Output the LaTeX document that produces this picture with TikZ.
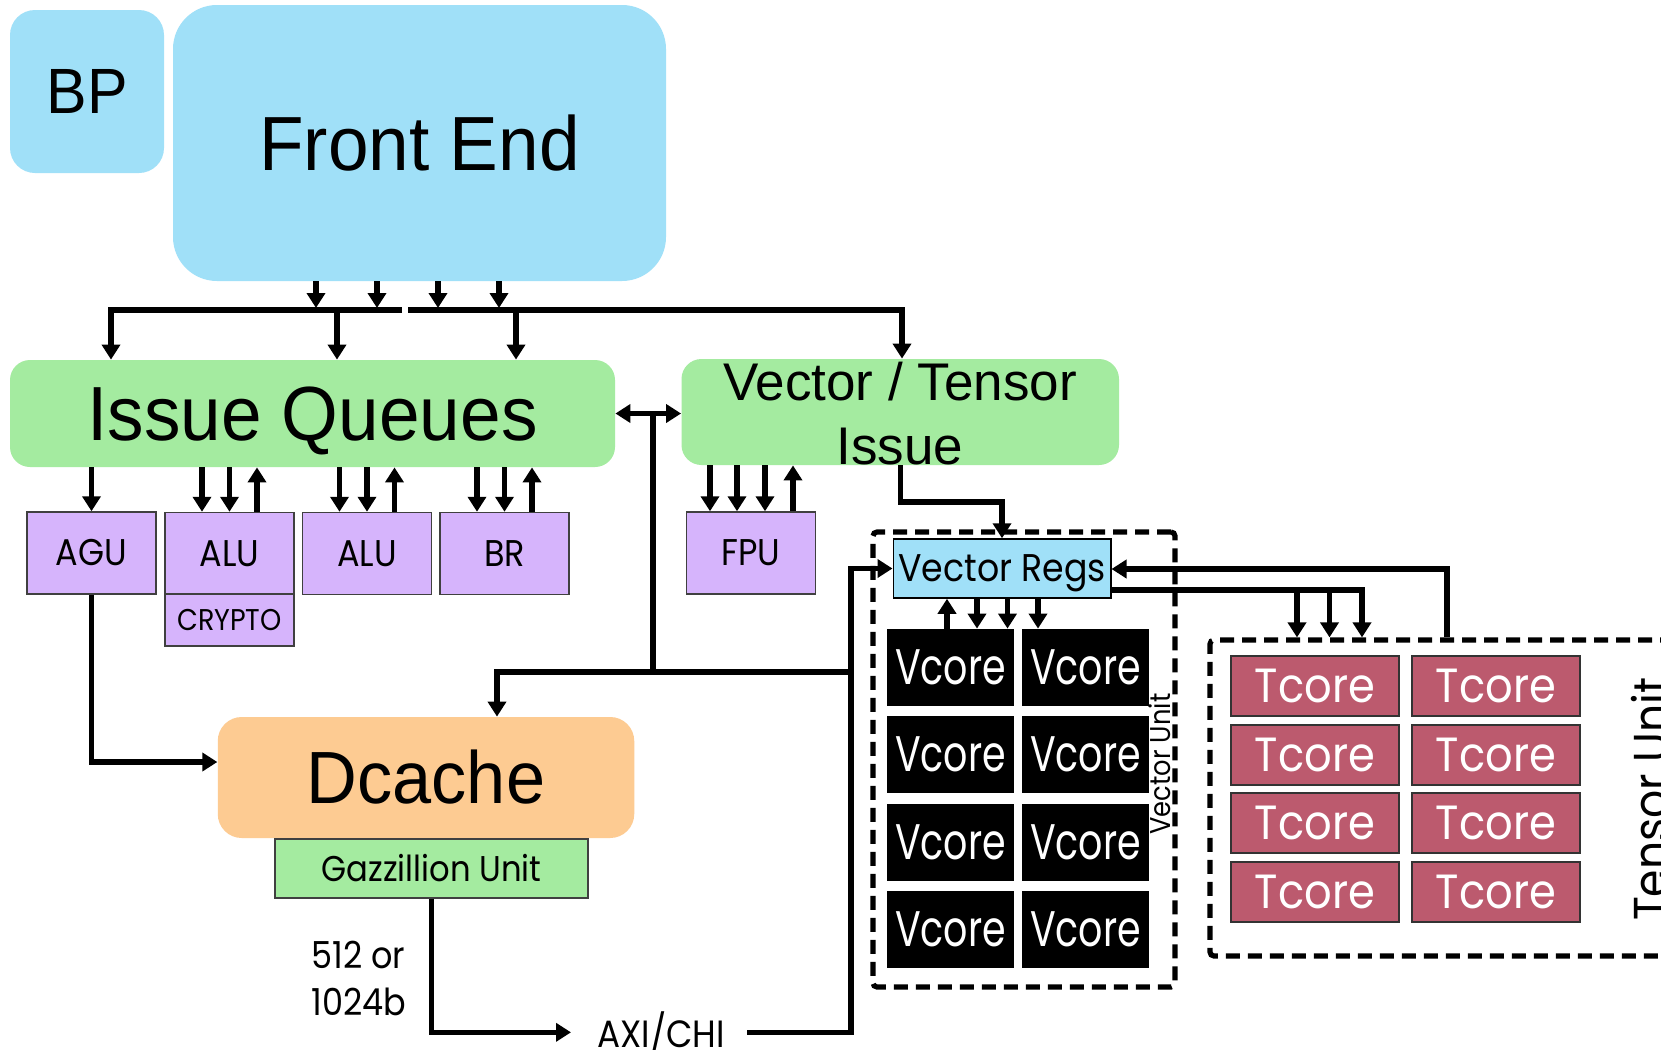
\documentclass[tikz,border=0pt]{standalone}
\usepackage{fontspec}
\usetikzlibrary{arrows.meta,calc}
\setmainfont{Liberation Sans}
\newfontfamily\arial{Liberation Sans}
\newfontfamily\arialc[FakeStretch=0.95]{Liberation Sans}
\newfontfamily\geo[FakeStretch=0.9]{Poppins}
\newfontfamily\geoV[FakeStretch=0.76]{Poppins}
\definecolor{cblue}{RGB}{160,224,248}
\definecolor{cgreen}{RGB}{164,235,160}
\definecolor{cpurple}{RGB}{214,180,252}
\definecolor{corange}{RGB}{253,203,146}
\definecolor{ctcore}{RGB}{188,90,110}
\begin{document}
\begin{tikzpicture}[x=0.5pt,y=-0.5pt,
  arr/.style={line width=2.7pt,-{Triangle[width=9pt,length=7.5pt]}},
  conn/.style={line width=2.7pt},
  dbl/.style={line width=2.7pt,{Triangle[width=9pt,length=7.5pt]}-{Triangle[width=9pt,length=7.5pt]}},
  bluebox/.style={fill=cblue,inner sep=0pt},
  greenbox/.style={fill=cgreen,inner sep=0pt},
  unit/.style={draw=black!75,line width=0.75pt,fill=cpurple,inner sep=0pt,minimum width=64.5pt,minimum height=41pt,font=\geo\fontsize{18.6}{20}\selectfont},
  vcore/.style={fill=black,text=white,inner sep=0pt,minimum width=63.5pt,minimum height=38.5pt,font=\geoV\fontsize{25}{28}\selectfont},
  tcore/.style={fill=ctcore,draw=black!80,line width=0.6pt,text=white,inner sep=0pt,minimum width=84pt,minimum height=30pt,font=\geo\fontsize{24}{28}\selectfont},
  dashbox/.style={draw=black,line width=2.6pt,dash pattern=on 7pt off 4pt,rounded corners=2pt,inner sep=0pt},
  lbl/.style={inner sep=0pt}
]
\fill[white] (0,0) rectangle (1661,1050);
\useasboundingbox (0,0) rectangle (1661,1050);

% dashed unit boxes
\node[dashbox,minimum width=151pt,minimum height=227.5pt] (vu) at (1024,759.5) {};
\node[dashbox,minimum width=245pt,minimum height=158pt] (tu) at (1455,798) {};

% top blocks
\node[bluebox,minimum width=77pt,minimum height=81.5pt,rounded corners=12.5pt,font=\arialc\fontsize{32}{34}\selectfont] (bp) at (87,91.5) {BP};
\node[bluebox,minimum width=246.5pt,minimum height=138pt,rounded corners=22pt,font=\arialc\fontsize{38.4}{40}\selectfont] (fe) at (419.5,143) {Front End};
\node[greenbox,minimum width=302.5pt,minimum height=53.5pt,rounded corners=10pt,text depth=0pt,font=\arialc\fontsize{38.4}{40}\selectfont] (iq) at (312.5,413.5) {Issue Queues};
\node[greenbox,minimum width=218.75pt,minimum height=53pt,rounded corners=10pt] (vti) at (900.25,412) {};
\node[lbl,anchor=base,font=\arial\fontsize{26.5}{30}\selectfont] (vtil1) at (900,400) {Vector / Tensor};
\node[lbl,anchor=base,font=\arial\fontsize{26.5}{30}\selectfont] (vtil2) at (900,464) {Issue};

% execution units
\node[unit] (agu) at (91.5,553) {AGU};
\node[unit] (alu1) at (229.5,553.5) {ALU};
\node[unit,minimum height=26pt,font=\geo\fontsize{15}{16}\selectfont] (crypto) at (229.5,620) {CRYPTO};
\node[unit] (alu2) at (367,553.5) {ALU};
\node[unit] (br) at (504.5,553.5) {BR};
\node[unit] (fpu) at (751,553) {FPU};

% dcache
\node[fill=corange,rounded corners=12pt,inner sep=0pt,minimum width=208.25pt,minimum height=60.5pt,font=\arialc\fontsize{37}{40}\selectfont] (dc) at (426,777.5) {Dcache};
\node[draw=black!75,line width=0.75pt,fill=cgreen,inner sep=0pt,minimum width=156.5pt,minimum height=29.5pt,font=\geo\fontsize{17.9}{20}\selectfont] (gz) at (431.5,868.5) {Gazzillion Unit};
\node[lbl,anchor=base west,font=\geo\fontsize{18.6}{20}\selectfont] (bw1) at (311,968) {512 or};
\node[lbl,anchor=base west,font=\geo\fontsize{18.6}{20}\selectfont] (bw2) at (311,1015) {1024b};
\node[lbl,anchor=base west,font=\geo\fontsize{19}{20}\selectfont] (axi) at (597,1047) {AXI/CHI};

% vector unit
\node[draw=black,line width=0.75pt,fill=cblue,inner sep=0pt,minimum width=108.75pt,minimum height=29.5pt,text depth=0pt,font=\geo\fontsize{19.3}{20}\selectfont] (vr) at (1002,568.5) {Vector Regs};
\foreach \c/\x in {1/950.5,2/1085.5}
  \foreach \r/\y in {1/667.5,2/754.5,3/842,4/929}
    \node[vcore] (v\r\c) at (\x,\y) {Vcore};
\node[lbl,rotate=90,anchor=base,font=\geo\fontsize{14.3}{16}\selectfont] (vul) at (1170,764) {Vector Unit};

% tensor unit
\foreach \c/\x in {1/1315,2/1496}
  \foreach \r/\y in {1/686,2/755,3/823,4/892}
    \node[tcore] (t\r\c) at (\x,\y) {Tcore};
\node[lbl,rotate=90,anchor=base,font=\geo\fontsize{24.5}{28}\selectfont] (tul) at (1668,799) {Tensor Unit};

% ---------- connectors ----------
\coordinate (busL) at (111,310);
\coordinate (busR) at (902,310);
\coordinate (gapL) at (402,310);
\coordinate (gapR) at (408,310);
\foreach \x in {316,377,438,499}
  \draw[arr] (fe.south -| \x,0) -- (\x,308);
\draw[arr] (gapL) -- (busL) -- (busL |- iq.north);
\draw[arr] (gapR) -- (busR) -- (busR |- vti.north);
\draw[arr] (busL -| 337,0) -- (iq.north -| 337,0);
\draw[arr] (busL -| 516,0) -- (iq.north -| 516,0);

% issue queues to units
\draw[arr] (iq.south -| agu) -- (agu.north);
\foreach \u in {alu1,alu2,br}{
  \draw[arr] ([xshift=-13.75pt]\u.north |- iq.south) -- ([xshift=-13.75pt]\u.north);
  \draw[arr] (\u.north |- iq.south) -- (\u.north);
  \draw[arr] ([xshift=13.75pt]\u.north) -- ([xshift=13.75pt]\u.north |- iq.south);
}
\foreach \dx in {-20.5pt,-7pt,7pt}
  \draw[arr] ([xshift=\dx]fpu.north |- vti.south) -- ([xshift=\dx]fpu.north);
\draw[arr] ([xshift=21pt]fpu.north) -- ([xshift=21pt]fpu.north |- vti.south);

% IQ <-> VTI and down to Dcache
\draw[dbl] (iq.east) -- (iq.east -| vti.west);
\coordinate (dj) at (653,672);
\coordinate (vbus) at (851,672);
\coordinate (dtop) at (497,672);
\draw[conn] (dj |- iq.east) -- (dj);
\draw[arr] (vbus) -- (dtop) -- (dtop |- dc.north);

% VTI to vector regs
\coordinate (vturn) at (1002,502);
\draw[arr] (vti.south) |- (vturn) -- (vr.north);

% AGU to dcache
\draw[arr] (agu.south) |- ([yshift=7.75pt]dc.west);

% gazzillion to AXI, AXI to vector regs
\draw[arr] (gz.south) |- ([xshift=-13pt]axi.west);
\draw[arr] ([xshift=11pt]axi.east) -| (vbus |- vr.west) -- (vr.west);

% vector regs <-> vcores
\draw[arr] (v11.north -| 947,0) -- (vr.south -| 947,0);
\foreach \x in {977,1007.5,1038}
  \draw[arr] (vr.south -| \x,0) -- (v11.north -| \x,0);

% vector regs <-> tensor unit
\coordinate (tbus) at (1362,590);
\draw[arr] (vr.east |- tbus) -- (tbus) -- (tbus |- tu.north);
\foreach \x in {1297,1329.5}
  \draw[arr] (tbus -| \x,0) -- (tu.north -| \x,0);
\coordinate (tret) at (1447,569);
\draw[arr] (tret |- tu.north) -- (tret) -- (vr.east |- tret);
\end{tikzpicture}
\end{document}
